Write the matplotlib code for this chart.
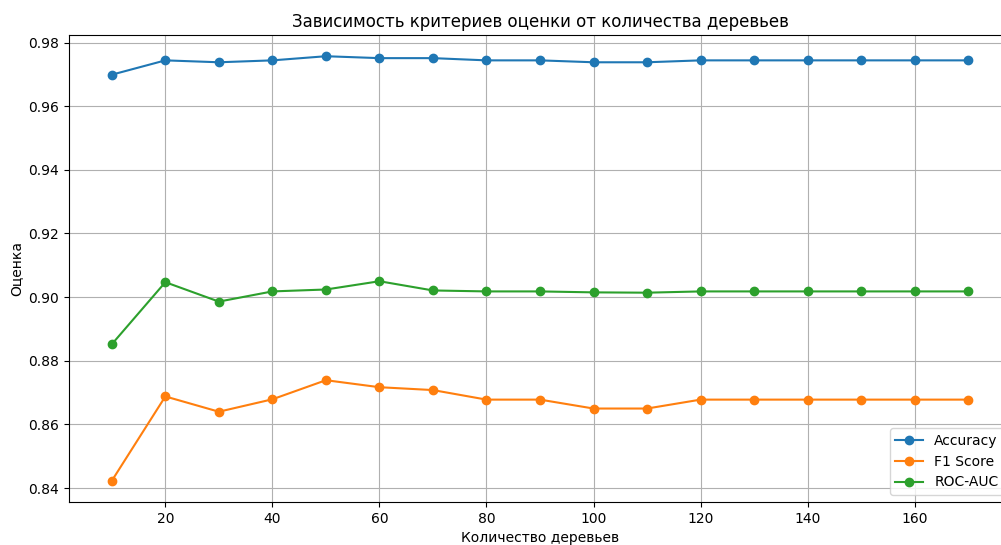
import matplotlib
matplotlib.use("Agg")
import matplotlib.pyplot as plt

# количество деревьев
n_trees = [10, 20, 30, 40, 50, 60, 70, 80, 90, 100, 110, 120, 130, 140, 150, 160, 170]

accuracy = [0.9699, 0.9744, 0.9738, 0.9744, 0.9757, 0.9751, 0.9751, 0.9744, 0.9744,
            0.9738, 0.9738, 0.9744, 0.9744, 0.9744, 0.9744, 0.9744, 0.9744]
f1_score = [0.8423, 0.8688, 0.8640, 0.8679, 0.8739, 0.8717, 0.8708, 0.8678, 0.8678,
            0.8650, 0.8650, 0.8678, 0.8678, 0.8678, 0.8678, 0.8678, 0.8678]
roc_auc = [0.8852, 0.9047, 0.8986, 0.9018, 0.9024, 0.9050, 0.9021, 0.9018, 0.9018,
           0.9015, 0.9014, 0.9018, 0.9018, 0.9018, 0.9018, 0.9018, 0.9018]

fig = plt.figure(figsize=(10.01, 5.45), dpi=100)
# правый край осей выходит за рамку картинки, как в исходнике
ax = fig.add_axes([69 / 1001, 43 / 545, (1011 - 69) / 1001, (510 - 43) / 545])

ax.plot(n_trees, accuracy, marker='o', label='Accuracy')
ax.plot(n_trees, f1_score, marker='o', label='F1 Score')
ax.plot(n_trees, roc_auc, marker='o', label='ROC-AUC')

ax.set_title('Зависимость критериев оценки от количества деревьев')
ax.set_xlabel('Количество деревьев')
ax.set_ylabel('Оценка')
ax.grid(True)
ax.legend(loc='lower right')

fig.savefig('out.png', dpi=100)
